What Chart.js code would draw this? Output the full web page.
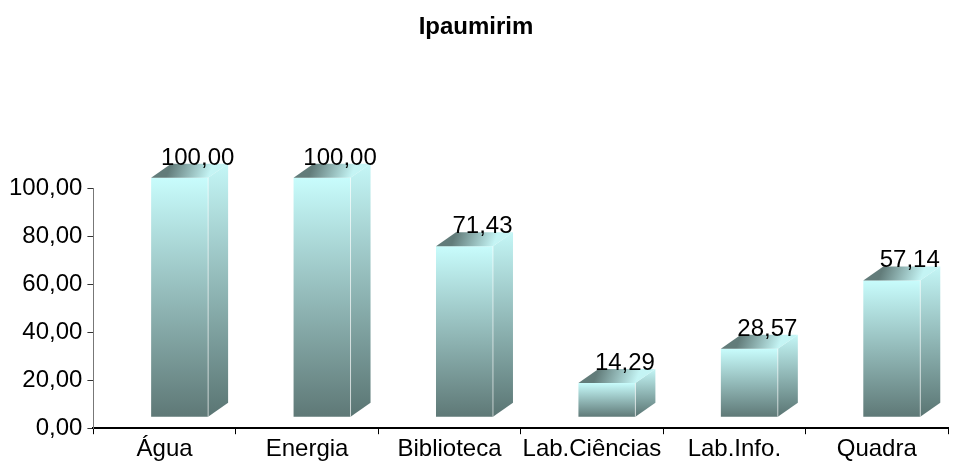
<!DOCTYPE html>
<html>
<head>
<meta charset="utf-8">
<script src="https://cdn.jsdelivr.net/npm/chart.js@4"></script>
<style>
body { margin: 0; background: #fff; }
#box { width: 957px; height: 465px; }
</style>
</head>
<body>
<div id="box"><canvas id="grafico" width="957" height="465"></canvas></div>
<script>
// dados
var categorias = ['Água', 'Energia', 'Biblioteca', 'Lab.Ciências', 'Lab.Info.', 'Quadra'];
var valores = [100.00, 100.00, 71.43, 14.29, 28.57, 57.14];
var y_ticks = [0, 20, 40, 60, 80, 100];

var fonte = "'Liberation Sans', Arial, sans-serif";
// deslocamento da face frontal e profundidade do bloco 3d
var SHIFT_X = 15, SHIFT_Y = -11;
var DX = 20, DY = -14;

function fmt(v){
    return v.toFixed(2).replace('.', ',');
}

function grad_frente(c){
    var ch = c.chart;
    if (!ch.chartArea) return '#9cc';
    var y = ch.scales.y;
    var topo = y.getPixelForValue(c.raw);
    var base = y.getPixelForValue(0);
    var g = ch.ctx.createLinearGradient(0, topo, 0, base);
    g.addColorStop(0, '#c8fcfc');
    g.addColorStop(1, '#5e7876');
    return g;
}

var bloco3d = {
    id: 'bloco3d',
    beforeDatasetsDraw: function(chart){
        chart.ctx.save();
        chart.ctx.translate(SHIFT_X, SHIFT_Y);
    },
    afterDatasetsDraw: function(chart){
        var ctx = chart.ctx;
        var meta = chart.getDatasetMeta(0);
        meta.data.forEach(function(bar, i){
            var p = bar.getProps(['x', 'y', 'base', 'width'], true);
            var l = p.x - p.width / 2, r = p.x + p.width / 2, t = p.y, b = p.base;
            // lado
            var gl = ctx.createLinearGradient(0, t + DY, 0, b);
            gl.addColorStop(0, '#c4f6f6');
            gl.addColorStop(1, '#5a7573');
            ctx.beginPath();
            ctx.moveTo(r, t);
            ctx.lineTo(r + DX, t + DY);
            ctx.lineTo(r + DX, b + DY);
            ctx.lineTo(r, b);
            ctx.closePath();
            ctx.fillStyle = gl;
            ctx.fill();
            // topo
            var gt = ctx.createLinearGradient(l + DX, t + DY, r, t);
            gt.addColorStop(0, '#627c7a');
            gt.addColorStop(1, '#c4f4f4');
            ctx.beginPath();
            ctx.moveTo(l, t);
            ctx.lineTo(l + DX, t + DY);
            ctx.lineTo(r + DX, t + DY);
            ctx.lineTo(r, t);
            ctx.closePath();
            ctx.fillStyle = gt;
            ctx.fill();
            // aresta
            ctx.beginPath();
            ctx.moveTo(r, t);
            ctx.lineTo(r, b);
            ctx.strokeStyle = 'rgba(255,255,255,0.6)';
            ctx.lineWidth = 1;
            ctx.stroke();
        });
        ctx.restore();
        // rotulos
        ctx.save();
        ctx.font = '24px ' + fonte;
        ctx.fillStyle = '#000';
        ctx.textAlign = 'center';
        ctx.textBaseline = 'alphabetic';
        meta.data.forEach(function(bar, i){
            var p = bar.getProps(['x', 'y'], true);
            ctx.fillText(fmt(valores[i]), p.x + SHIFT_X + 18, p.y - 24);
        });
        ctx.restore();
    }
};

var ctx = document.getElementById('grafico');
new Chart(ctx, {
    type: 'bar',
    data: {
        labels: categorias,
        datasets: [{
            data: valores,
            backgroundColor: grad_frente,
            borderWidth: 0,
            barPercentage: 0.4,
            categoryPercentage: 1.0,
            clip: false
        }]
    },
    options: {
        responsive: false,
        animation: false,
        layout: { padding: { left: 4, right: 9, top: 0, bottom: 0 } },
        scales: {
            x: {
                grid: { drawOnChartArea: false, drawTicks: true, tickLength: 6, color: '#000', offset: true },
                border: { display: true, color: '#000', width: 2 },
                ticks: { color: '#000', font: { family: fonte, size: 24 }, padding: 1, maxRotation: 0 }
            },
            y: {
                min: 0,
                max: 100,
                afterBuildTicks: function(axis){
                    axis.ticks = y_ticks.map(function(v){ return { value: v }; });
                },
                grid: { drawOnChartArea: false, drawTicks: true, tickLength: 6, color: '#333' },
                border: { display: true, color: '#777', width: 1 },
                ticks: {
                    color: '#000',
                    font: { family: fonte, size: 24 },
                    padding: 5,
                    callback: function(v){ return fmt(v); }
                }
            }
        },
        plugins: {
            title: {
                display: true,
                text: 'Ipaumirim',
                color: '#000',
                font: { family: fonte, size: 24, weight: 'bold' },
                padding: { top: 13, bottom: 147 }
            },
            legend: { display: false },
            tooltip: { enabled: false }
        }
    },
    plugins: [bloco3d]
});
</script>
</body>
</html>
